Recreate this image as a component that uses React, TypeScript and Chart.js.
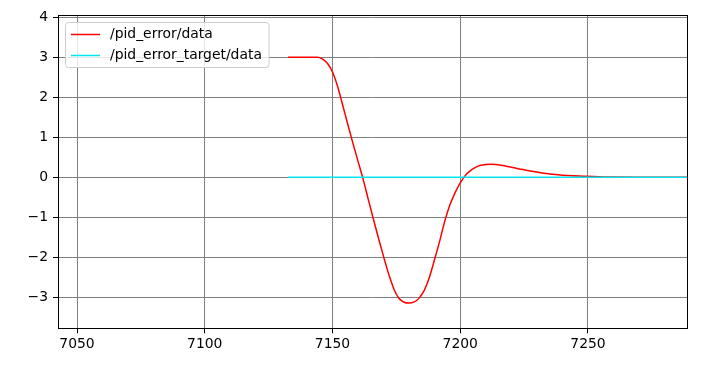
import React, { useEffect, useRef } from "react";
import { Chart, registerables } from "chart.js";

Chart.register(...registerables);

const ERROR_X = [7132.6, 7136, 7140, 7144, 7146, 7148, 7150, 7152, 7154, 7156, 7158, 7160, 7162, 7164, 7166, 7168, 7170, 7172, 7174, 7175, 7176, 7177, 7178, 7180, 7182, 7183, 7184, 7185, 7186, 7188, 7190, 7192, 7194, 7196, 7198, 7200, 7202, 7204, 7206, 7208, 7210, 7212, 7214, 7216, 7218, 7220, 7224, 7228, 7232, 7236, 7240, 7244, 7248, 7252, 7256, 7260, 7270, 7280, 7288.7];
const ERROR_Y = [3, 3, 3, 3, 2.96, 2.85, 2.63, 2.27, 1.8, 1.32, 0.85, 0.4, -0.05, -0.55, -1.04, -1.52, -1.98, -2.42, -2.78, -2.92, -3.02, -3.08, -3.12, -3.14, -3.11, -3.07, -3.01, -2.92, -2.81, -2.48, -2.04, -1.58, -1.08, -0.68, -0.38, -0.14, 0.05, 0.17, 0.25, 0.3, 0.32, 0.33, 0.32, 0.3, 0.28, 0.25, 0.2, 0.15, 0.11, 0.08, 0.055, 0.04, 0.03, 0.02, 0.012, 0.008, 0.004, 0.002, 0.001];
const TARGET_X = [7132.6, 7288.7];
const TARGET_Y = [0, 0];
const SERIES_NAMES = ["/pid_error/data", "/pid_error_target/data"];
const X_TICKS = [7050, 7100, 7150, 7200, 7250];
const Y_TICKS = [-3, -2, -1, 0, 1, 2, 3, 4];
const X_MIN = 7042.56;
const X_MAX = 7288.75;
const Y_MIN = -3.77;
const Y_MAX = 4.04;

const COLORS = ["#ff0000", "#00e5ee"];
const FONT = "DejaVu Sans";

const legendPlugin = {
  id: "mplLegend",
  afterDraw(chart: any) {
    const ctx = chart.ctx;
    const a = chart.chartArea;
    ctx.save();
    // frame
    ctx.strokeStyle = "#000";
    ctx.lineWidth = 1;
    const l = Math.round(a.left) + 0.5;
    const t = Math.round(a.top) - 0.5;
    const r0 = Math.round(a.right) + 0.5;
    const b0 = Math.round(a.bottom) + 0.5;
    ctx.strokeRect(l, t, r0 - l, b0 - t);
    // legend box
    const bx = 65.5, by = 22.5, bw = 203.5, bh = 45;
    const r = 3;
    ctx.beginPath();
    ctx.moveTo(bx + r, by);
    ctx.lineTo(bx + bw - r, by);
    ctx.quadraticCurveTo(bx + bw, by, bx + bw, by + r);
    ctx.lineTo(bx + bw, by + bh - r);
    ctx.quadraticCurveTo(bx + bw, by + bh, bx + bw - r, by + bh);
    ctx.lineTo(bx + r, by + bh);
    ctx.quadraticCurveTo(bx, by + bh, bx, by + bh - r);
    ctx.lineTo(bx, by + r);
    ctx.quadraticCurveTo(bx, by, bx + r, by);
    ctx.closePath();
    ctx.fillStyle = "rgba(255,255,255,0.8)";
    ctx.fill();
    ctx.strokeStyle = "#cccccc";
    ctx.stroke();
    const rows = [34.5, 55.5];
    ctx.font = `13.9px "${FONT}"`;
    ctx.textBaseline = "middle";
    ctx.textAlign = "left";
    SERIES_NAMES.forEach((name, i) => {
      ctx.strokeStyle = COLORS[i];
      ctx.lineWidth = 1.5;
      ctx.beginPath();
      ctx.moveTo(71, rows[i]);
      ctx.lineTo(100, rows[i]);
      ctx.stroke();
      ctx.fillStyle = "#000";
      ctx.fillText(name, 110, rows[i]);
    });
    ctx.restore();
  },
};

export default function App() {
  const ref = useRef<HTMLCanvasElement>(null);
  useEffect(() => {
    if (!ref.current) return;
    const chart = new Chart(ref.current, {
      type: "line",
      data: {
        datasets: [
          {
            label: SERIES_NAMES[0],
            data: ERROR_X.map((x, i) => ({ x, y: ERROR_Y[i] })),
            borderColor: COLORS[0],
            borderWidth: 1.5,
            pointRadius: 0,
            cubicInterpolationMode: "monotone",
            fill: false,
            order: 2,
          },
          {
            label: SERIES_NAMES[1],
            data: TARGET_X.map((x, i) => ({ x, y: TARGET_Y[i] })),
            borderColor: COLORS[1],
            borderWidth: 1.5,
            pointRadius: 0,
            fill: false,
            order: 1,
          },
        ],
      },
      options: {
        responsive: false,
        animation: false,
        layout: { padding: { left: 0, right: 15, top: 15.6, bottom: 0 } },
        plugins: { legend: { display: false }, tooltip: { enabled: false } },
        scales: {
          x: {
            type: "linear",
            min: X_MIN,
            max: X_MAX,
            afterBuildTicks: (s: any) => {
              s.ticks = X_TICKS.map((v) => ({ value: v }));
            },
            afterFit: (s: any) => {
              s.height = 38.7;
            },
            grid: { color: "#808080", lineWidth: 1, tickColor: "#000", tickLength: 5, drawTicks: true },
            border: { display: false },
            ticks: {
              color: "#000",
              font: { family: FONT, size: 13.9 },
              padding: 3,
              maxRotation: 0,
              autoSkip: false,
              callback: (v: any) => String(v),
            },
          },
          y: {
            type: "linear",
            min: Y_MIN,
            max: Y_MAX,
            afterBuildTicks: (s: any) => {
              s.ticks = Y_TICKS.map((v) => ({ value: v }));
            },
            afterFit: (s: any) => {
              s.width = 58;
            },
            grid: { color: "#808080", lineWidth: 1, tickColor: "#000", tickLength: 5, drawTicks: true },
            border: { display: false },
            ticks: {
              color: "#000",
              font: { family: FONT, size: 13.9 },
              padding: 5,
              autoSkip: false,
              callback: (v: any) => (v < 0 ? "\u2212" + Math.abs(v) : String(v)),
            },
          },
        },
      },
      plugins: [legendPlugin],
    });
    return () => chart.destroy();
  }, []);
  return (
    <div style={{ position: "absolute", left: 0, top: 0, width: 702, height: 367, background: "#fff" }}>
      <canvas ref={ref} width={702} height={367} />
    </div>
  );
}
